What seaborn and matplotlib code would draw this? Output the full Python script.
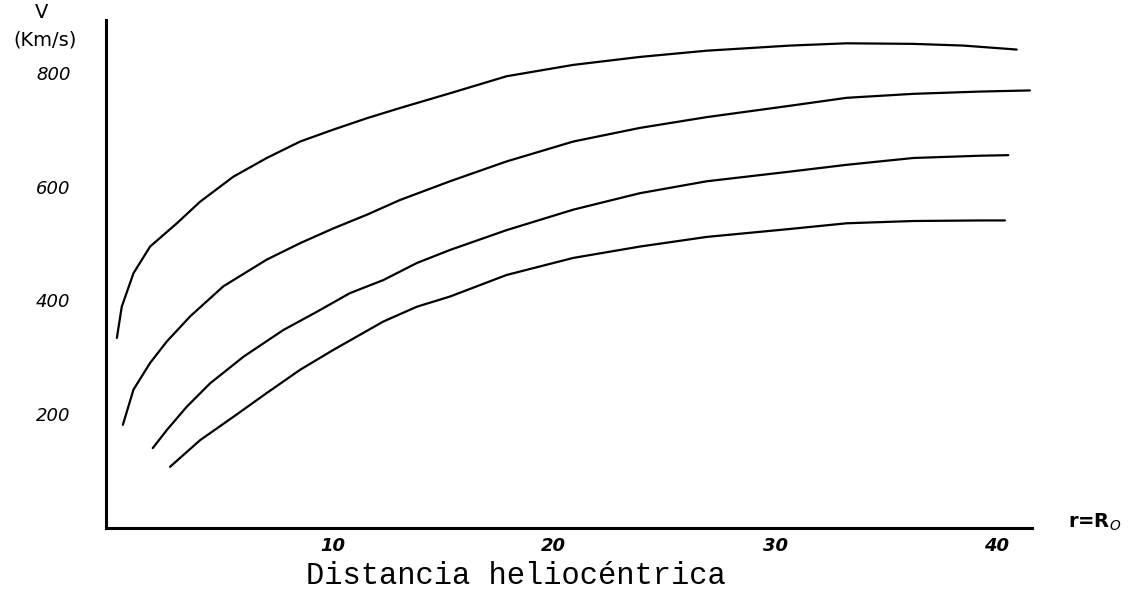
import numpy as np
import pandas as pd
import matplotlib
matplotlib.use("Agg")
import matplotlib.pyplot as plt
import seaborn as sns

# Heliocentric distance (r in R0) and velocity V (km/s) for the four curves
r1 = [0.26, 0.48, 1.01, 1.76, 2.97, 4.02, 5.52, 7.03, 8.54, 10.04, 11.55, 13.05, 15.31,
      17.87, 20.88, 23.89, 26.91, 30.67, 33.23, 36.24, 38.50, 40.91]
v1 = [334, 389, 448, 495, 536, 574, 618, 651, 680, 701, 721, 739, 765,
      795, 815, 829, 840, 849, 853, 852, 849, 842]

r2 = [0.53, 1.01, 1.76, 2.52, 3.57, 5.07, 7.03, 8.54, 10.04, 11.55, 13.05, 15.31,
      17.87, 20.88, 23.89, 26.91, 30.67, 33.23, 36.24, 39.25, 41.51]
v2 = [181, 243, 290, 328, 372, 425, 472, 501, 527, 551, 577, 610,
      645, 680, 704, 723, 743, 757, 764, 768, 770]

r3 = [1.88, 2.52, 3.42, 4.47, 5.98, 7.78, 9.29, 10.79, 12.30, 13.81, 15.31,
      17.87, 20.88, 23.89, 26.91, 30.67, 33.23, 36.24, 39.25, 40.53]
v3 = [140, 172, 213, 254, 301, 348, 380, 413, 436, 466, 489,
      524, 560, 589, 610, 627, 639, 651, 655, 656]

r4 = [2.66, 4.02, 5.52, 7.03, 8.54, 10.04, 12.30, 13.81, 15.31,
      17.87, 20.88, 23.89, 26.91, 30.67, 33.23, 36.24, 39.25, 40.38]
v4 = [107, 154, 195, 237, 278, 313, 363, 389, 407,
      445, 475, 495, 512, 526, 536, 540, 541, 541]

x_ticks = [10, 20, 30, 40]
y_ticks = [200, 400, 600, 800]

curves = {"c1": (r1, v1), "c2": (r2, v2), "c3": (r3, v3), "c4": (r4, v4)}
df = pd.concat(
    [pd.DataFrame({"r": r, "v": v, "curve": k}) for k, (r, v) in curves.items()],
    ignore_index=True,
)

sns.set_theme(style="white")
plt.rcParams["font.family"] = ["DejaVu Sans"]
plt.rcParams["text.color"] = "black"
plt.rcParams["xtick.color"] = "black"
plt.rcParams["ytick.color"] = "black"

fig = plt.figure(figsize=(11.34, 5.96), dpi=100)
ax = fig.add_axes([0.0935, 0.1141, 0.8165, 0.8523])

sns.lineplot(data=df, x="r", y="v", hue="curve", estimator=None, sort=False,
             palette=["black"] * 4, linewidth=1.6, legend=False, ax=ax)

ax.set_xlim(-0.23, 41.6)
ax.set_ylim(-0.7, 894)
ax.set_xticks(x_ticks)
ax.set_yticks(y_ticks)
ax.set_xticklabels([str(t) for t in x_ticks], fontsize=13, fontstyle="italic",
                   fontweight="bold", color="black")
ax.set_yticklabels([str(t) for t in y_ticks], fontsize=13, fontstyle="italic",
                   color="black")
ax.tick_params(axis="x", direction="inout", length=7, width=1.5, color="black", pad=3)
ax.tick_params(axis="y", direction="inout", length=7, width=1.5, color="black", pad=22)
ax.set_xlabel("")
ax.set_ylabel("")

for s in ["top", "right"]:
    ax.spines[s].set_visible(False)
for s in ["left", "bottom"]:
    ax.spines[s].set_color("black")
    ax.spines[s].set_linewidth(2.2)
ax.grid(False)
ax.set_facecolor("white")

fig.text(42 / 1134, 1 - 13 / 596, "V", fontsize=14, ha="center", va="center",
         color="black")
fig.text(45 / 1134, 1 - 40 / 596, "(Km/s)", fontsize=14, ha="center", va="center",
         color="black")
fig.text(1095 / 1134, 1 - 522 / 596, "r=R$_O$", fontsize=14, fontweight="bold",
         ha="center", va="center", color="black")
fig.text(516 / 1134, 1 - 576 / 596, "Distancia heliocéntrica", fontsize=22,
         family=["Liberation Mono", "DejaVu Sans Mono"], ha="center", va="center",
         color="black")

fig.savefig("out.png", dpi=100, facecolor="white")
